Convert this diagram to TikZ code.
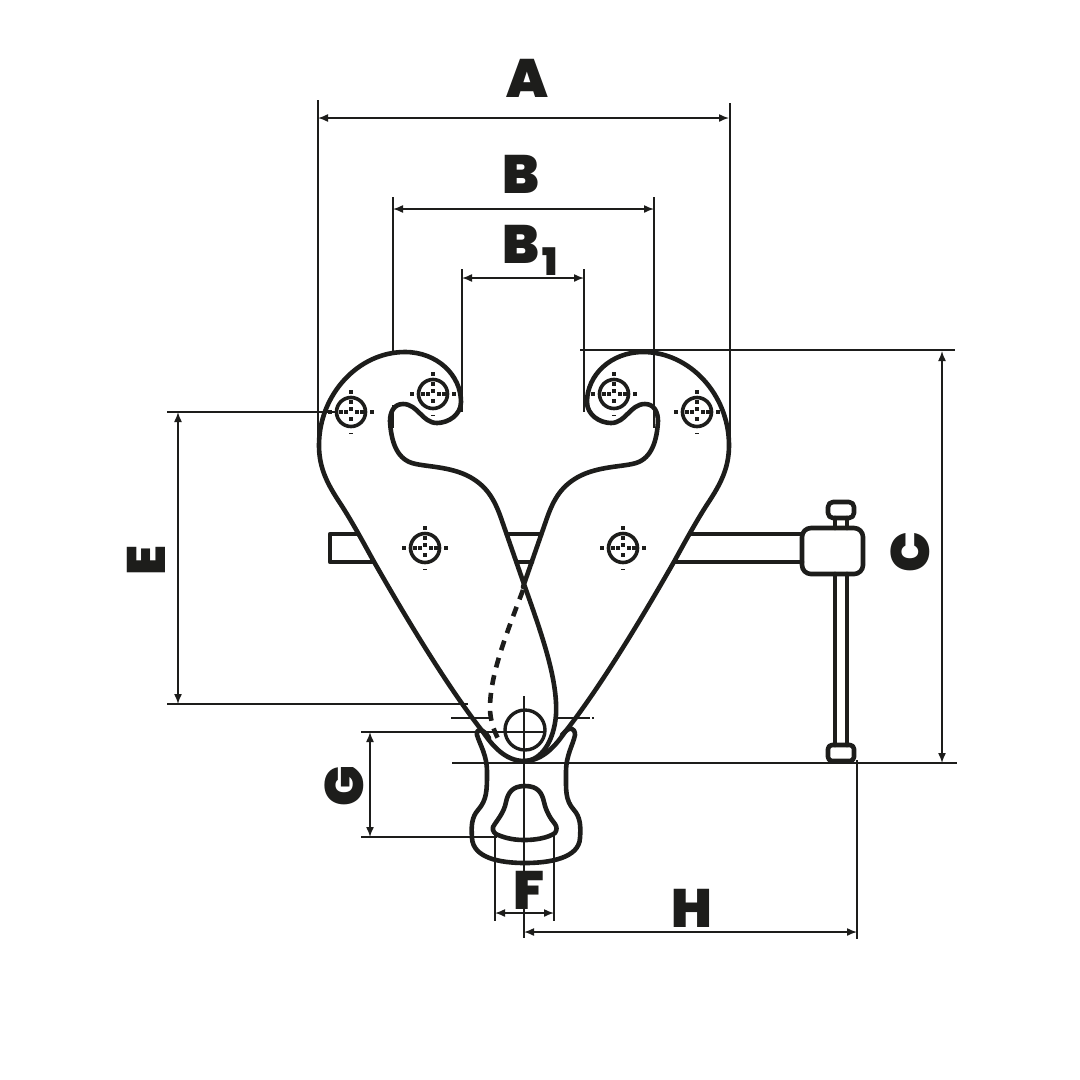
\documentclass[tikz,border=0pt]{standalone}
\usepackage{fontspec}
\usetikzlibrary{arrows.meta}
\newfontfamily\lab{Poppins Black}
\definecolor{ink}{HTML}{1D1D1B}
\tikzset{
  x=1pt,y=-1pt,
  thick line/.style={draw=ink,line width=4.6pt,line join=round,line cap=round},
  thin line/.style={draw=ink,line width=1.5pt},
  dimline/.style={draw=ink,line width=1.5pt,{Latex[length=10pt,width=8pt]}-{Latex[length=10pt,width=8pt]}},
  letter/.style={text=ink,font=\lab\fontsize{54}{54}\selectfont,inner sep=0pt},
  sub letter/.style={text=ink,font=\lab\fontsize{38}{38}\selectfont,inner sep=0pt},
}
\newcommand{\boltmark}[2]{%
  \draw[draw=ink,line width=3.6pt] (#1,#2) circle[radius=14.5];
  \foreach \dx/\dy in {-21/0,21/0,-10.5/0,10.5/0,-5.5/0,5.5/0,0/-20,0/-10.5,0/-3,0/6.5}{
    \fill[ink] ({#1+\dx-2},{#2+\dy-2}) rectangle ({#1+\dx+2},{#2+\dy+2});}
  \fill[ink] ({#1-2.2},{#2+21}) rectangle ({#1+2.2},{#2+22});
}
\newcommand{\plateouter}{(524,761) .. controls (505,761) and (492,745) .. (483,732)
  .. controls (450,690) and (410,625) .. (373,560)
  .. controls (362,540) and (350,518) .. (338,500)
  .. controls (325,480) and (319,465) .. (319,445)
  .. controls (319,395) and (358,352) .. (405,352)
  .. controls (437,352) and (461,375) .. (461,402)
  .. controls (461,415) and (448,423) .. (437,423)
  .. controls (422,423) and (418,404) .. (403,404)
  .. controls (394,404) and (390,412) .. (390,421)
  .. controls (391,440) and (396,458) .. (412,463)
  .. controls (425,467) and (450,466) .. (470,477)
  .. controls (486,486) and (494,498) .. (501,518) -- (525,587)}
\begin{document}
\begin{tikzpicture}
\useasboundingbox (0,0) rectangle (1080,1080);
\fill[white] (0,0) rectangle (1080,1080);

% named dimension points
\coordinate (Al) at (318,118); \coordinate (Ar) at (729,118);
\coordinate (Bl) at (393,209); \coordinate (Br) at (654,209);
\coordinate (Cl) at (462,278); \coordinate (Cr) at (584,278);
\coordinate (Ct) at (942,351); \coordinate (Cb) at (942,763);
\coordinate (Et) at (178,412); \coordinate (Eb) at (178,704);
\coordinate (Gt) at (370,732); \coordinate (Gb) at (370,837);
\coordinate (Fl) at (495,913); \coordinate (Fr) at (554,913);
\coordinate (Hl) at (524,932); \coordinate (Hr) at (857,932);

% extension lines
\draw[thin line] (318,100) -- (318,447);
\draw[thin line] (730,103) -- (730,447);
\draw[thin line] (393,197) -- (393,353);
\draw[thin line] (393,405) -- (393,428);
\draw[thin line] (654,197) -- (654,428);
\draw[thin line] (462,269) -- (462,412);
\draw[thin line] (584,269) -- (584,412);
\draw[thin line] (580,350) -- (955,350);
\draw[thin line] (452,763) -- (957,763);
\draw[thin line] (167,412) -- (335,412);
\draw[thin line] (167,704) -- (468,704);
\draw[thin line] (361,732) -- (546,732);
\draw[thin line] (361,837) -- (497,837);
\draw[thin line] (495,832) -- (495,921);
\draw[thin line] (554,832) -- (554,921);
\draw[thin line] (857,760) -- (857,939);
\draw[thin line] (524,696) -- (524,938);
\draw[thin line] (451,718) -- (491,718);
\draw[thin line] (558,718) -- (574,718);
\draw[thin line] (578,718) -- (590,718);
\draw[thin line] (592,718) -- (594,718);

% dimension lines
\draw[dimline] (Al) -- (Ar);
\draw[dimline] (Bl) -- (Br);
\draw[dimline] (Cl) -- (Cr);
\draw[dimline] (Ct) -- (Cb);
\draw[dimline] (Et) -- (Eb);
\draw[dimline] (Gt) -- (Gb);
\draw[dimline] (Fl) -- (Fr);
\draw[dimline] (Hl) -- (Hr);

% beam bar
\draw[thick line] (358,534) -- (330,534) -- (330,562) -- (373,562);
\draw[thick line] (507,534) -- (541,534);
\draw[thick line] (517,562) -- (532,562);
\draw[thick line] (690,534) -- (802,534);
\draw[thick line] (675,562) -- (802,562);

% screw
\draw[thick line] (835,518) -- (835,528);
\draw[thick line] (847,518) -- (847,528);
\draw[thick line] (835,574) -- (835,745);
\draw[thick line] (847,574) -- (847,745);
\draw[thick line,rounded corners=9pt] (802,528) rectangle (863,574);
\draw[thick line,rounded corners=5pt] (828,502) rectangle (854,518);
\draw[thick line,rounded corners=4pt] (828,745) rectangle (854,761);

% plates
\draw[thick line] \plateouter
  .. controls (542,635) and (558,680) .. (556,715)
  .. controls (554,740) and (542,761) .. (524,761);
\begin{scope}[xscale=-1,xshift=-1048]
\draw[thick line] \plateouter;
\end{scope}
\draw[draw=ink,line width=4.6pt,dash pattern=on 10pt off 8pt] (523,590)
  .. controls (506,635) and (490,675) .. (490,708)
  .. controls (490,720) and (494,732) .. (500,742);

% pin
\draw[draw=ink,line width=3.4pt] (525,730) circle[radius=20];

% shackle
\draw[thick line] (489,738) .. controls (484,729) and (476,727) .. (477,735)
  .. controls (480,745) and (487,755) .. (487,772)
  .. controls (487,790) and (487,800) .. (478,810)
  .. controls (472,817) and (471,825) .. (472,838)
  .. controls (473,858) and (500,863) .. (525,863)
  .. controls (550,863) and (579,858) .. (580,838)
  .. controls (581,825) and (580,817) .. (574,810)
  .. controls (565,800) and (566,790) .. (566,772)
  .. controls (566,755) and (573,745) .. (575,735)
  .. controls (575,728) and (570,725) .. (562,735);
\draw[thick line] (525,786) .. controls (512,786) and (508,793) .. (506,802)
  .. controls (504,813) and (497,820) .. (493,827)
  .. controls (492,831) and (495,834) .. (498,835)
  .. controls (508,839) and (516,840) .. (525,840)
  .. controls (535,840) and (548,838) .. (555,833)
  .. controls (557,830) and (557,827) .. (555,824)
  .. controls (550,818) and (546,811) .. (544,802)
  .. controls (542,793) and (538,786) .. (525,786);

% bolts
\boltmark{351}{412}
\boltmark{433}{394}
\boltmark{425}{548}
\boltmark{697}{412}
\boltmark{614}{394}
\boltmark{623}{548}

% labels
\node[letter] (la) at (527,78) {A};
\node[letter] (lb) at (521,174) {B};
\node[letter] (lb1) at (521,244) {B};
\node[sub letter] (l1) at (550,262) {1};
\node[letter,rotate=90] (lc) at (910,552) {C};
\node[letter,rotate=90] (le) at (146,560) {E};
\node[letter,rotate=90] (lg) at (344,786) {G};
\node[letter] (lf) at (529,890) {F};
\node[letter] (lh) at (692,908) {H};
\end{tikzpicture}
\end{document}
